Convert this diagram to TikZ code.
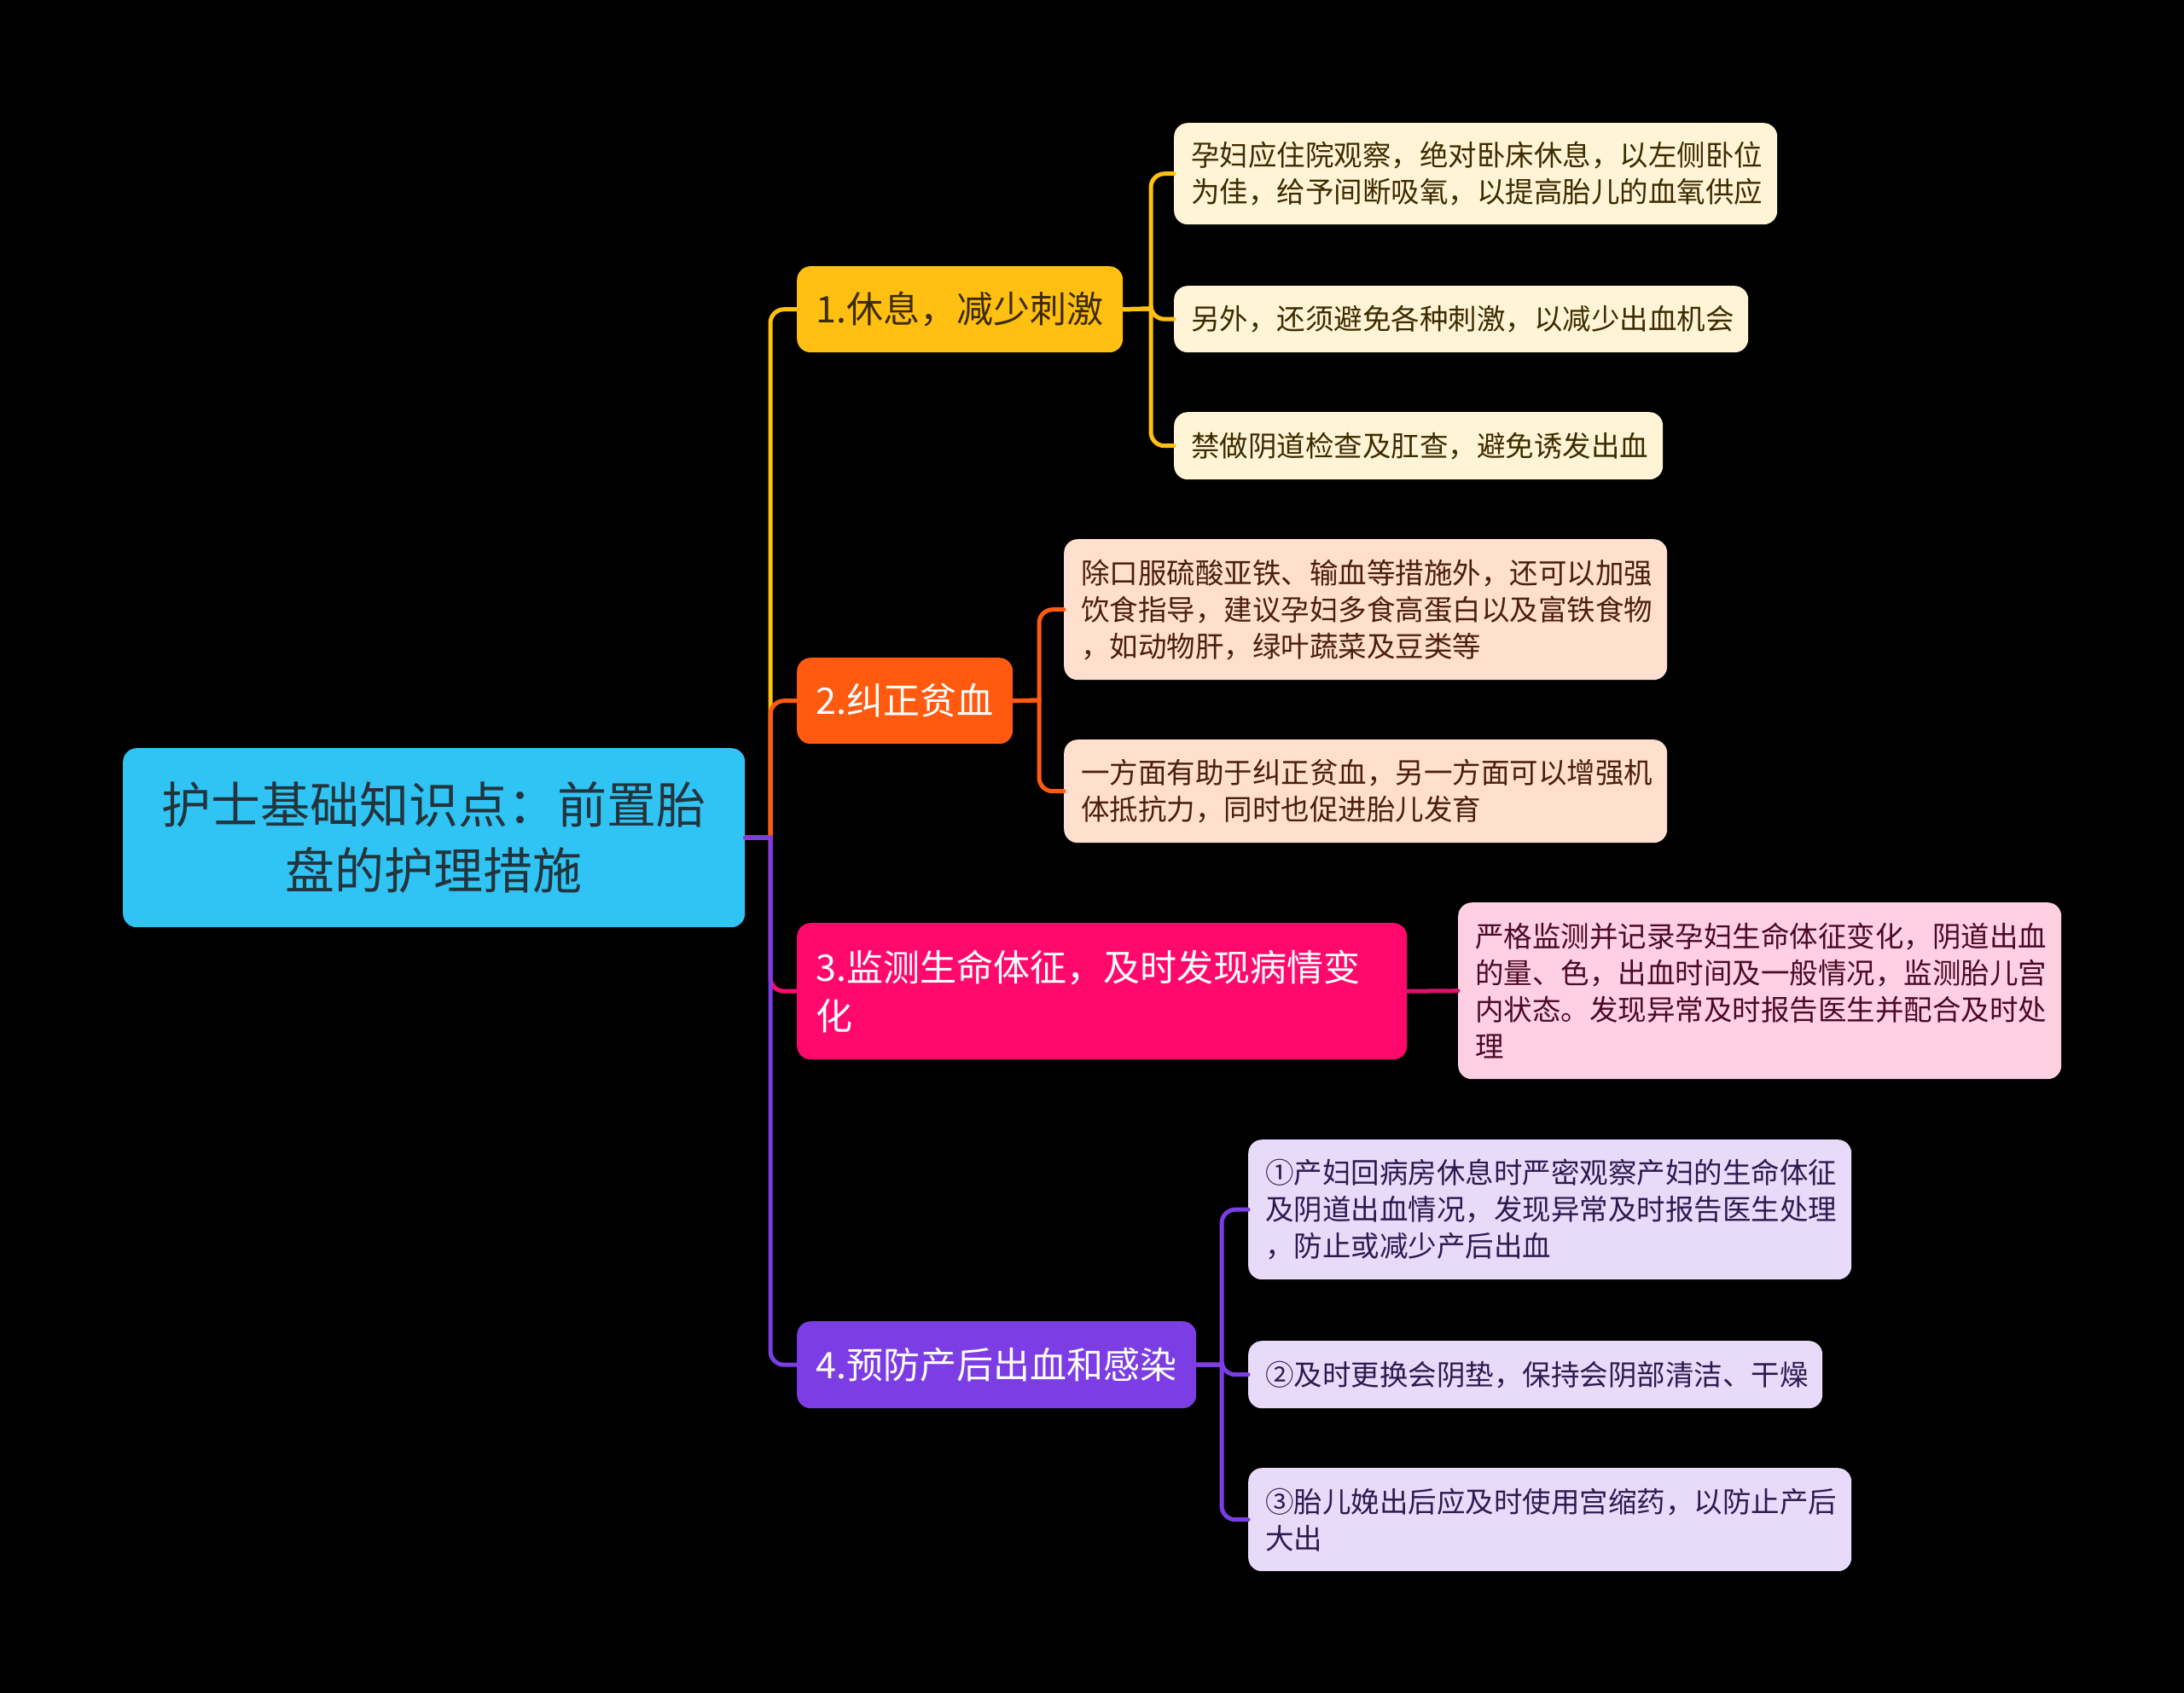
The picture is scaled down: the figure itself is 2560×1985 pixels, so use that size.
\documentclass[tikz,border=0pt]{standalone}
\usepackage{fontspec}
\setmainfont{Noto Sans CJK SC}
\definecolor{rootc}{HTML}{2FC4F4}
\definecolor{roottx}{HTML}{24343C}
\definecolor{yel}{HTML}{FFC012}
\definecolor{ora}{HTML}{FF5A10}
\definecolor{pnk}{HTML}{FF0A6C}
\definecolor{pnkline}{HTML}{D8146A}
\definecolor{pur}{HTML}{7C3DE4}
\definecolor{l1}{HTML}{FFF5D6}
\definecolor{l1tx}{HTML}{3D2B00}
\definecolor{l2}{HTML}{FFDFCE}
\definecolor{l2tx}{HTML}{4A1E10}
\definecolor{l3}{HTML}{FFD0E2}
\definecolor{l3tx}{HTML}{4A0A22}
\definecolor{l4}{HTML}{E8DBFA}
\definecolor{l4tx}{HTML}{2D1A4F}
\tikzset{
  box/.style={anchor=north west, rounded corners=16pt, inner ysep=0pt, align=left},
  mainbox/.style={box, inner xsep=22pt, font=\fontsize{43}{57}\selectfont},
  leafbox/.style={box, inner xsep=20pt, font=\fontsize{33.5}{43}\selectfont},
  conn/.style={line width=5pt, line cap=round},
}
\begin{document}
\begin{tikzpicture}[x=1pt,y=-1pt]
\fill[black] (0,0) rectangle (2560,1985);
\useasboundingbox (0,0) rectangle (2560,1985);

% root
\node[box, fill=rootc, text=roottx, inner xsep=20pt, text width=689pt, minimum height=210pt, align=center,
  font=\fontsize{58}{77}\selectfont] (root) at (144,877) {护士基础知识点：前置胎\\盘的护理措施};

% main branches
\node[mainbox, fill=yel, text=l1tx, text width=338pt, minimum height=101pt] (n1) at (934,312) {1.休息，减少刺激};
\node[mainbox, fill=ora, text=white, text width=209pt, minimum height=101pt] (n2) at (934,771) {2.纠正贫血};
\node[mainbox, fill=pnk, text=white, text width=671pt, minimum height=160pt] (n3) at (934,1082) {3.监测生命体征，及时发现病情变\\化};
\node[mainbox, fill=pur, text=white, text width=424pt, minimum height=102pt] (n4) at (934,1549) {4.预防产后出血和感染};

% leaves 1
\node[leafbox, fill=l1, text=l1tx, text width=667pt, minimum height=119pt] (l1a) at (1376,144) {孕妇应住院观察，绝对卧床休息，以左侧卧位\\为佳，给予间断吸氧，以提高胎儿的血氧供应};
\node[leafbox, fill=l1, text=l1tx, text width=633pt, minimum height=78pt] (l1b) at (1376,335) {另外，还须避免各种刺激，以减少出血机会};
\node[leafbox, fill=l1, text=l1tx, text width=533pt, minimum height=79pt] (l1c) at (1376,483) {禁做阴道检查及肛查，避免诱发出血};

% leaves 2
\node[leafbox, fill=l2, text=l2tx, text width=667pt, minimum height=165pt] (l2a) at (1247,632) {除口服硫酸亚铁、输血等措施外，还可以加强\\饮食指导，建议孕妇多食高蛋白以及富铁食物\\，如动物肝，绿叶蔬菜及豆类等};
\node[leafbox, fill=l2, text=l2tx, text width=667pt, minimum height=121pt] (l2b) at (1247,867) {一方面有助于纠正贫血，另一方面可以增强机\\体抵抗力，同时也促进胎儿发育};

% leaf 3
\node[leafbox, fill=l3, text=l3tx, text width=667pt, minimum height=207pt] (l3) at (1709,1058) {严格监测并记录孕妇生命体征变化，阴道出血\\的量、色，出血时间及一般情况，监测胎儿宫\\内状态。发现异常及时报告医生并配合及时处\\理};

% leaves 4
\node[leafbox, fill=l4, text=l4tx, text width=667pt, minimum height=164pt] (l4a) at (1463,1336) {①产妇回病房休息时严密观察产妇的生命体征\\及阴道出血情况，发现异常及时报告医生处理\\，防止或减少产后出血};
\node[leafbox, fill=l4, text=l4tx, text width=633pt, minimum height=79pt] (l4b) at (1463,1572) {②及时更换会阴垫，保持会阴部清洁、干燥};
\node[leafbox, fill=l4, text=l4tx, text width=667pt, minimum height=121pt] (l4c) at (1463,1721) {③胎儿娩出后应及时使用宫缩药，以防止产后\\大出};

% junction coordinates
\coordinate (trunk) at (903,982);
\coordinate (b1) at (1349,362);
\coordinate (b2) at (1218,821);
\coordinate (b4) at (1432,1600);

% root connectors
\draw[conn, yel] (root.east) -- (trunk) [rounded corners=16pt] |- (n1.west);
\draw[conn, ora] (root.east) -- (trunk) [rounded corners=16pt] |- (n2.west);
\draw[conn, pnk] (root.east) -- (trunk) [rounded corners=16pt] |- (n3.west);
\draw[conn, pur] (root.east) -- (trunk) [rounded corners=16pt] |- (n4.west);

% branch 1
\draw[conn, yel] (n1.east) -- (b1) [rounded corners=16pt] |- (l1a.west);
\draw[conn, yel] (n1.east) -- (b1) [rounded corners=16pt] |- (l1b.west);
\draw[conn, yel] (n1.east) -- (b1) [rounded corners=16pt] |- (l1c.west);

% branch 2
\draw[conn, ora] (n2.east) -- (b2) [rounded corners=16pt] |- (l2a.west);
\draw[conn, ora] (n2.east) -- (b2) [rounded corners=16pt] |- (l2b.west);

% branch 3
\draw[conn, pnkline] (n3.east) -- (l3.west);

% branch 4
\draw[conn, pur] (n4.east) -- (b4) [rounded corners=16pt] |- (l4a.west);
\draw[conn, pur] (n4.east) -- (b4) [rounded corners=16pt] |- (l4b.west);
\draw[conn, pur] (n4.east) -- (b4) [rounded corners=16pt] |- (l4c.west);
\end{tikzpicture}
\end{document}
